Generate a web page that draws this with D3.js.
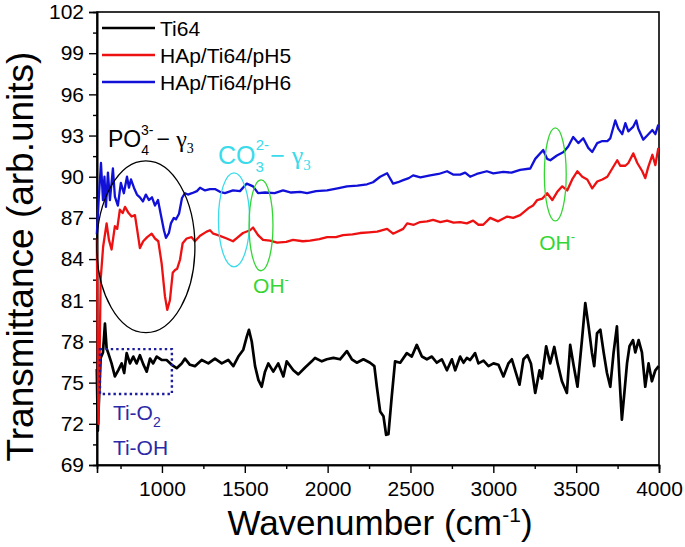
<!DOCTYPE html>
<html>
<head>
<meta charset="utf-8">
<script src="https://cdn.jsdelivr.net/npm/d3@7"></script>
<style>
  body { margin: 0; background: #fff; }
  svg { display: block; font-family: "Liberation Sans", Arial, sans-serif; }
</style>
</head>
<body>
<div class="chart"></div>
<script>
"use strict";

// series: [wavenumber, transmittance]
const ti64Points = [
  [607, 76.0], [613, 71.5], [620, 73.8], [630, 76.8], [644, 77.2], [656, 79.3], [666, 77.5],
  [676, 77.15], [696, 76.4], [716, 75.45], [736, 75.9], [757, 76.4], [772, 75.7], [787, 77.15],
  [807, 76.4], [827, 76.9], [847, 76.4], [867, 77.0], [887, 76.35], [908, 75.8], [928, 76.75],
  [947, 76.4], [968, 76.9], [998, 76.65], [1028, 76.65], [1059, 76.3], [1089, 76.05], [1119, 76.4],
  [1139, 76.75], [1169, 76.3], [1199, 76.2], [1240, 76.65], [1280, 76.4], [1320, 76.75], [1361, 76.4],
  [1400, 76.65], [1431, 76.2], [1461, 76.9], [1491, 77.4], [1512, 78.35], [1525, 78.85], [1542, 78.0],
  [1562, 76.2], [1582, 75.2], [1602, 74.7], [1622, 75.8], [1642, 76.4], [1672, 75.8], [1702, 76.4],
  [1733, 75.45], [1753, 76.55], [1793, 75.9], [1823, 75.6], [1864, 76.1], [1904, 76.55], [1924, 76.8],
  [1965, 76.55], [1995, 76.7], [2035, 76.8], [2075, 76.7], [2116, 77.3], [2146, 76.7], [2176, 76.45],
  [2216, 76.7], [2256, 76.45], [2282, 76.2], [2297, 74.7], [2317, 72.9], [2337, 72.55], [2353, 71.2],
  [2367, 71.25], [2387, 74.0], [2407, 76.55], [2438, 76.45], [2478, 77.15], [2508, 76.9], [2538, 77.75],
  [2569, 76.9], [2599, 76.7], [2629, 76.9], [2659, 76.45], [2689, 76.7], [2720, 75.9], [2750, 76.7],
  [2770, 75.9], [2800, 76.9], [2820, 76.45], [2840, 76.8], [2860, 76.65], [2890, 77.15], [2910, 76.4],
  [2941, 76.6], [2971, 76.2], [3001, 76.4], [3031, 76.3], [3061, 75.45], [3091, 76.4], [3112, 76.7],
  [3132, 75.9], [3158, 74.85], [3182, 76.7], [3206, 77.0], [3227, 76.4], [3253, 74.25], [3279, 75.9],
  [3293, 75.3], [3319, 77.65], [3343, 76.4], [3368, 77.6], [3388, 76.4], [3414, 75.1], [3444, 74.25],
  [3464, 77.75], [3484, 76.3], [3508, 74.7], [3535, 78.1], [3555, 80.8], [3575, 79.1], [3595, 77.2],
  [3609, 76.2], [3626, 78.6], [3646, 78.85], [3666, 77.2], [3686, 75.7], [3706, 74.7], [3726, 77.2],
  [3746, 79.1], [3760, 75.7], [3776, 72.3], [3791, 74.25], [3807, 76.4], [3822, 77.65], [3843, 78.1],
  [3857, 77.2], [3877, 78.1], [3897, 77.2], [3917, 74.7], [3937, 76.4], [3957, 75.1], [3978, 75.9],
  [3998, 76.2]
];

const ph5Points = [
  [607, 85.5], [612, 78.0], [617, 72.0], [623, 76.0], [630, 82.5], [645, 84.9], [666, 86.6],
  [680, 85.4], [696, 84.7], [716, 86.4], [730, 86.2], [746, 87.6], [763, 87.35], [777, 87.8],
  [796, 87.4], [817, 87.1], [837, 87.2], [851, 86.1], [867, 84.8], [887, 85.3], [911, 85.6],
  [938, 85.85], [958, 85.5], [978, 85.3], [998, 83.7], [1018, 81.3], [1032, 80.3], [1048, 81.0],
  [1065, 83.0], [1079, 83.2], [1092, 83.3], [1109, 83.95], [1125, 85.15], [1149, 85.5], [1179, 85.6],
  [1199, 85.3], [1230, 85.7], [1270, 86.0], [1290, 86.1], [1310, 85.85], [1338, 85.75], [1391, 85.5],
  [1429, 85.3], [1459, 85.6], [1489, 85.9], [1532, 86.1], [1550, 86.3], [1580, 85.75], [1610, 85.4],
  [1652, 85.35], [1695, 85.2], [1750, 85.25], [1791, 85.4], [1850, 85.3], [1894, 85.35], [1950, 85.45],
  [1997, 85.6], [2050, 85.6], [2093, 85.75], [2150, 85.8], [2196, 85.9], [2250, 85.95], [2299, 86.0],
  [2359, 86.2], [2395, 85.85], [2456, 86.2], [2480, 86.6], [2520, 86.5], [2558, 86.7], [2600, 86.75],
  [2637, 86.85], [2680, 86.7], [2721, 86.8], [2760, 86.65], [2800, 86.7], [2840, 86.6], [2878, 86.8],
  [2910, 86.5], [2939, 86.5], [2981, 87.0], [3029, 86.75], [3084, 87.1], [3120, 87.0], [3162, 87.2],
  [3211, 87.7], [3240, 87.9], [3265, 88.3], [3295, 88.4], [3325, 88.8], [3356, 88.3], [3386, 88.9],
  [3416, 89.3], [3446, 89.0], [3476, 89.8], [3507, 90.4], [3537, 90.0], [3567, 89.8], [3597, 89.15],
  [3627, 89.65], [3658, 89.8], [3688, 90.0], [3718, 90.6], [3748, 91.2], [3766, 90.8], [3797, 90.8],
  [3815, 91.0], [3845, 91.7], [3869, 91.0], [3899, 90.4], [3917, 89.9], [3935, 90.7], [3960, 91.6],
  [3978, 90.85], [3996, 92.1]
];

const ph6Points = [
  [607, 85.8], [619, 88.5], [632, 91.0], [644, 88.3], [653, 90.0], [662, 87.8], [674, 90.3],
  [686, 88.3], [704, 90.6], [716, 88.55], [734, 87.9], [752, 89.55], [770, 88.8], [789, 90.0],
  [801, 89.2], [813, 89.8], [831, 89.2], [849, 88.7], [867, 88.5], [885, 88.2], [903, 88.7],
  [921, 88.3], [940, 88.5], [958, 87.9], [976, 88.3], [994, 87.2], [1012, 86.1], [1024, 85.55],
  [1042, 85.9], [1054, 86.6], [1072, 87.0], [1085, 86.9], [1103, 87.3], [1121, 88.45], [1139, 88.8],
  [1157, 88.7], [1181, 88.8], [1211, 88.95], [1230, 89.2], [1260, 89.0], [1290, 89.1], [1320, 89.1],
  [1350, 88.9], [1380, 88.8], [1429, 89.0], [1471, 88.95], [1512, 89.5], [1550, 89.3], [1580, 88.8],
  [1622, 88.85], [1680, 88.8], [1731, 89.0], [1780, 88.85], [1834, 88.9], [1876, 88.8], [1930, 88.95],
  [1997, 89.0], [2060, 89.15], [2117, 89.3], [2180, 89.35], [2238, 89.45], [2274, 89.6], [2317, 90.0],
  [2359, 90.25], [2395, 89.5], [2425, 89.6], [2456, 89.75], [2490, 89.9], [2516, 90.1], [2560, 89.95],
  [2619, 90.1], [2670, 90.2], [2721, 90.4], [2760, 90.15], [2800, 90.15], [2830, 90.3], [2860, 90.0],
  [2900, 90.2], [2961, 90.4], [3000, 90.25], [3060, 90.35], [3110, 90.3], [3162, 90.5], [3223, 90.6],
  [3253, 91.3], [3301, 91.95], [3325, 91.3], [3344, 91.2], [3384, 91.55], [3424, 91.8], [3452, 92.2],
  [3482, 92.9], [3513, 92.45], [3543, 92.8], [3573, 92.1], [3597, 91.8], [3627, 92.45], [3658, 92.6],
  [3688, 92.6], [3706, 92.8], [3736, 94.1], [3754, 93.5], [3778, 93.1], [3797, 93.9], [3815, 93.3],
  [3845, 93.65], [3863, 94.1], [3875, 93.5], [3905, 92.7], [3929, 93.0], [3960, 93.4], [3978, 93.1],
  [3996, 93.8]
];

const seriesNames = ["Ti64", "HAp/Ti64/pH5", "HAp/Ti64/pH6"];
const seriesColors = ["#000000", "#ee1111", "#1010d8"];

const xTicks = [1000, 1500, 2000, 2500, 3000, 3500, 4000];
const xMinorTicks = [750, 1250, 1750, 2250, 2750, 3250, 3750];
const yTicks = [69, 72, 75, 78, 81, 84, 87, 90, 93, 96, 99, 102];
const yMinorTicks = [70.5, 73.5, 76.5, 79.5, 82.5, 85.5, 88.5, 91.5, 94.5, 97.5, 100.5];

// annotation ellipses: center wavenumber / transmittance, radii in the same units
const ellipses = [
  { cx: 903, cy: 84.9, rx: 296, ry: 6.26, color: "#000000" },
  { cx: 1435, cy: 86.86, rx: 94, ry: 3.42, color: "#3adbea" },
  { cx: 1598, cy: 86.46, rx: 72, ry: 3.31, color: "#33d633" },
  { cx: 3374, cy: 90.17, rx: 66, ry: 3.39, color: "#33d633" }
];

const width = 685;
const height = 547;
const margin = { top: 12, right: 26, bottom: 82, left: 97 };

const svg = d3.select(".chart")
  .append("svg")
  .attr("width", width)
  .attr("height", height)
  .attr("viewBox", `0 0 ${width} ${height}`);

const xScale = d3.scaleLinear()
  .domain([608, 4000])
  .range([margin.left, width - margin.right]);

const yScale = d3.scaleLinear()
  .domain([69, 102])
  .range([height - margin.bottom, margin.top]);

// frame
svg.append("rect")
  .attr("x", margin.left)
  .attr("y", margin.top)
  .attr("width", width - margin.left - margin.right)
  .attr("height", height - margin.top - margin.bottom)
  .attr("fill", "none")
  .attr("stroke", "#000")
  .attr("stroke-width", 1.6);

// axes
svg.append("g")
  .attr("transform", `translate(0,${height - margin.bottom})`)
  .call(d3.axisBottom(xScale).tickValues(xTicks).tickFormat(d3.format("d")).tickSize(8).tickPadding(8));

svg.append("g")
  .attr("transform", `translate(0,${height - margin.bottom})`)
  .call(d3.axisBottom(xScale).tickValues(xMinorTicks).tickSize(4).tickFormat(""));

svg.append("g")
  .attr("transform", `translate(${margin.left},0)`)
  .call(d3.axisLeft(yScale).tickValues(yTicks).tickFormat(d3.format("d")).tickSize(8).tickPadding(5));

svg.append("g")
  .attr("transform", `translate(${margin.left},0)`)
  .call(d3.axisLeft(yScale).tickValues(yMinorTicks).tickSize(4).tickFormat(""));

svg.selectAll(".domain").attr("stroke", "#000").attr("stroke-width", 1.6);
svg.selectAll(".tick line").attr("stroke", "#000").attr("stroke-width", 1.4);
svg.selectAll(".tick text")
  .attr("fill", "#000")
  .style("font-family", "'Liberation Sans', Arial, sans-serif")
  .style("font-size", "21px");

// axis titles
svg.append("text")
  .attr("transform", `translate(33,${(margin.top + height - margin.bottom) / 2 + 18}) rotate(-90)`)
  .attr("text-anchor", "middle")
  .style("font-size", "37px")
  .text("Transmittance (arb.units)");

const xTitle = svg.append("text")
  .attr("x", (margin.left + width - margin.right) / 2 + 2)
  .attr("y", 535)
  .attr("text-anchor", "middle")
  .style("font-size", "35px");
xTitle.append("tspan").text("Wavenumber (cm");
xTitle.append("tspan").attr("dy", -13).style("font-size", "21px").text("-1");
xTitle.append("tspan").attr("dy", 13).text(")");

// spectra
const line = d3.line()
  .x(d => xScale(d[0]))
  .y(d => yScale(d[1]));

const allSeries = [ti64Points, ph5Points, ph6Points];

svg.append("g")
  .selectAll("path")
  .data(allSeries)
  .join("path")
  .attr("d", line)
  .attr("fill", "none")
  .attr("stroke", (d, i) => seriesColors[i])
  .attr("stroke-width", (d, i) => i === 0 ? 2.7 : 2.3)
  .attr("stroke-linejoin", "round");

// ellipses
svg.append("g")
  .selectAll("ellipse")
  .data(ellipses)
  .join("ellipse")
  .attr("cx", d => xScale(d.cx))
  .attr("cy", d => yScale(d.cy))
  .attr("rx", d => xScale(d.cx + d.rx) - xScale(d.cx))
  .attr("ry", d => yScale(d.cy - d.ry) - yScale(d.cy))
  .attr("fill", "none")
  .attr("stroke", d => d.color)
  .attr("stroke-width", 1.3);

// dotted box around Ti-O region
svg.append("rect")
  .attr("x", xScale(626))
  .attr("y", yScale(77.44))
  .attr("width", xScale(1060) - xScale(626))
  .attr("height", yScale(74.17) - yScale(77.44))
  .attr("fill", "none")
  .attr("stroke", "#1c1ca0")
  .attr("stroke-width", 2.4)
  .attr("stroke-dasharray", "2.4,3");

// legend
const legend = svg.append("g")
  .selectAll("g")
  .data(seriesNames)
  .join("g")
  .attr("transform", (d, i) => `translate(102,${28 + i * 27})`);

legend.append("line")
  .attr("x1", 0)
  .attr("x2", 53)
  .attr("stroke", (d, i) => seriesColors[i])
  .attr("stroke-width", 2.4);

legend.append("text")
  .attr("x", 58)
  .attr("y", 8)
  .style("font-size", "21px")
  .text(d => d);

// labels
const greek = "'Liberation Serif', 'DejaVu Serif', serif";

const poLabel = svg.append("text")
  .attr("x", xScale(674))
  .attr("y", yScale(92.17))
  .style("font-size", "23px");
poLabel.append("tspan").text("PO");
poLabel.append("tspan").attr("dy", 8).style("font-size", "14px").text("4");
poLabel.append("tspan").attr("dx", -8).attr("dy", -20).style("font-size", "14px").text("3-");
poLabel.append("tspan").attr("dx", 3).attr("dy", 12).text("\u2212 ");
poLabel.append("tspan").style("font-family", greek).style("font-size", "24px").text("\u03b3");
poLabel.append("tspan").attr("dy", 6).style("font-family", greek).style("font-size", "14px").text("3");

const coLabel = svg.append("text")
  .attr("x", xScale(1338))
  .attr("y", yScale(90.93))
  .attr("fill", "#3adbea")
  .style("font-size", "25px");
coLabel.append("tspan").text("CO");
coLabel.append("tspan").attr("dy", 8).style("font-size", "15px").text("3");
coLabel.append("tspan").attr("dx", -8).attr("dy", -22).style("font-size", "15px").text("2-");
coLabel.append("tspan").attr("dx", 1).attr("dy", 14).text("\u2212 ");
coLabel.append("tspan").style("font-family", greek).style("font-size", "26px").text("\u03b3");
coLabel.append("tspan").attr("dy", 6).style("font-family", greek).style("font-size", "15px").text("3");

const ohLabels = [[1550, 81.54], [3277, 84.67]];
ohLabels.forEach(p => {
  const t = svg.append("text")
    .attr("x", xScale(p[0]))
    .attr("y", yScale(p[1]))
    .attr("fill", "#33d633")
    .style("font-size", "21px");
  t.append("tspan").text("OH");
  t.append("tspan").attr("dy", -9).style("font-size", "13px").text("-");
});

const tiO2 = svg.append("text")
  .attr("x", xScale(704))
  .attr("y", yScale(72.3))
  .attr("fill", "#2a2aa8")
  .style("font-size", "21px");
tiO2.append("tspan").text("Ti-O");
tiO2.append("tspan").attr("dy", 7).style("font-size", "14px").text("2");

svg.append("text")
  .attr("x", xScale(704))
  .attr("y", yScale(69.75))
  .attr("fill", "#2a2aa8")
  .style("font-size", "21px")
  .text("Ti-OH");
</script>
</body>
</html>
